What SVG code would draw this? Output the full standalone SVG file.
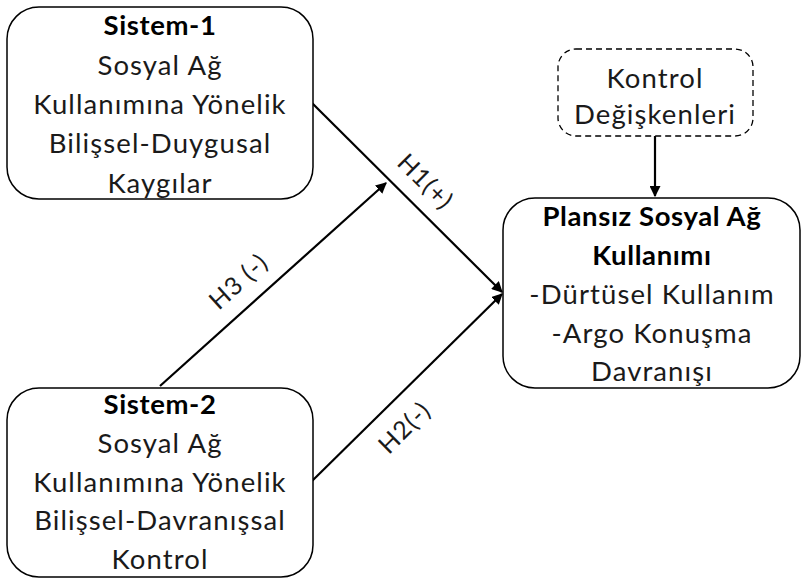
<svg xmlns="http://www.w3.org/2000/svg" width="802" height="579" viewBox="0 0 802 579">
<style>
.box{fill:#fff;stroke:#000;stroke-width:1.5}
.dash{fill:#fff;stroke:#000;stroke-width:1.3;stroke-dasharray:6 4}
text{font-family:Lato,"Open Sans","Liberation Sans",sans-serif;font-size:27.5px;letter-spacing:1.1px;fill:#1a1a1a;text-anchor:middle}
.b{font-weight:bold;fill:#000;letter-spacing:0.6px}
.edge{stroke:#000;stroke-width:2.2;fill:none}
.lbl{font-size:25px;letter-spacing:1px}
</style>
<defs>
<marker id="ah" viewBox="0 0 10 10" refX="9" refY="5" markerWidth="5" markerHeight="5" orient="auto" markerUnits="strokeWidth">
<path d="M0,0 L10,5 L0,10 z" fill="#000"/>
</marker>
</defs>
<g id="connectors">
<line class="edge" x1="312" y1="103" x2="502" y2="292" marker-end="url(#ah)"/>
<line class="edge" x1="160" y1="386" x2="386" y2="183" marker-end="url(#ah)"/>
<line class="edge" x1="312" y1="481" x2="502" y2="294" marker-end="url(#ah)"/>
<line class="edge" x1="655" y1="136" x2="655" y2="196" marker-end="url(#ah)"/>
<text class="lbl" transform="translate(425,182) rotate(45)" dy="8">H1(+)</text>
<text class="lbl" transform="translate(239,282) rotate(-42)" dy="8">H3 (-)</text>
<text class="lbl" transform="translate(405,428) rotate(-44.5)" dy="8">H2(-)</text>
</g>
<g id="sistem1">
<rect class="box" x="7" y="7" width="306" height="192" rx="32"/>
<text class="b" x="160" y="35">Sistem-1</text>
<text x="160" y="75">Sosyal Ağ</text>
<text x="160" y="114">Kullanımına Yönelik</text>
<text x="160" y="153">Bilişsel-Duygusal</text>
<text x="160" y="193">Kaygılar</text>
</g>
<g id="sistem2">
<rect class="box" x="7" y="388" width="306" height="189" rx="32"/>
<text class="b" x="160" y="414">Sistem-2</text>
<text x="160" y="453">Sosyal Ağ</text>
<text x="160" y="492">Kullanımına Yönelik</text>
<text x="160" y="530">Bilişsel-Davranışsal</text>
<text x="160" y="569">Kontrol</text>
</g>
<g id="plansiz">
<rect class="box" x="503" y="198" width="297" height="190" rx="32"/>
<text class="b" x="652" y="226">Plansız Sosyal Ağ</text>
<text class="b" x="652" y="265">Kullanımı</text>
<text x="652" y="304">-Dürtüsel Kullanım</text>
<text x="652" y="343">-Argo Konuşma</text>
<text x="652" y="381">Davranışı</text>
</g>
<g id="kontrol">
<rect class="dash" x="558" y="49" width="195" height="87" rx="18"/>
<text x="655" y="88">Kontrol</text>
<text x="655" y="124">Değişkenleri</text>
</g>
</svg>
